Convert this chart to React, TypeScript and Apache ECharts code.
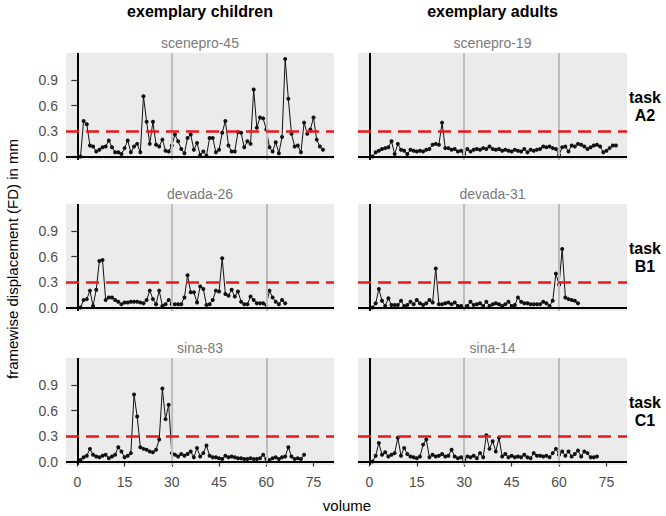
import React, { useEffect, useRef } from "react";
import * as echarts from "echarts";

const columnTitles = ["exemplary children", "exemplary adults"];
const rowTitles = ["task\nA2", "task\nB1", "task\nC1"];
const panelTitles = ["scenepro-45", "scenepro-19", "devada-26", "devada-31", "sina-83", "sina-14"];
const xTicks = [0, 15, 30, 45, 60, 75];
const yTicks = [0, 0.3, 0.6, 0.9];
const threshold = 0.3;
const guideVolumes = [30, 60];
const yAxisTitle = "framewise displacement (FD) in mm";
const xAxisTitle = "volume";

const scenepro45 = [
  0.0, 0.42, 0.38, 0.13, 0.12, 0.06, 0.08, 0.11, 0.12, 0.19,
  0.11, 0.05, 0.05, 0.03, 0.1, 0.19, 0.05, 0.12, 0.15, 0.05,
  0.71, 0.41, 0.15, 0.41, 0.14, 0.12, 0.2, 0.07, 0.06, 0.13,
  0.26, 0.18, 0.09, 0.04, 0.22, 0.26, 0.08, 0.16, 0.02, 0.06,
  0.01, 0.22, 0.22, 0.05, 0.08, 0.28, 0.42, 0.13, 0.06, 0.06,
  0.29, 0.28, 0.11, 0.18, 0.15, 0.79, 0.34, 0.46, 0.45, 0.32,
  0.11, 0.06, 0.17, 0.04, 0.23, 1.15, 0.68, 0.27, 0.12, 0.13,
  0.05, 0.4, 0.27, 0.32, 0.46, 0.2, 0.12, 0.08,
];
const scenepro19 = [
  0.0, 0.05, 0.07, 0.09, 0.1, 0.11, 0.18, 0.03, 0.15, 0.08,
  0.07, 0.03, 0.08, 0.07, 0.06, 0.07, 0.06, 0.08, 0.09, 0.14,
  0.15, 0.14, 0.4, 0.1, 0.1, 0.08, 0.09, 0.06, 0.07, 0.03,
  0.09, 0.06, 0.08, 0.09, 0.08, 0.1, 0.09, 0.12, 0.09, 0.08,
  0.09, 0.07, 0.08, 0.07, 0.06, 0.08, 0.07, 0.06, 0.09, 0.05,
  0.08, 0.07, 0.08, 0.09, 0.12, 0.11, 0.12, 0.1, 0.09, 0.02,
  0.11, 0.12, 0.06, 0.13, 0.12, 0.15, 0.14, 0.12, 0.09, 0.11,
  0.13, 0.14, 0.12, 0.05, 0.07, 0.1, 0.13, 0.13,
];
const devada26 = [
  0.0, 0.09, 0.1, 0.2, 0.02, 0.21, 0.55, 0.56, 0.09, 0.12,
  0.12, 0.09, 0.07, 0.04, 0.06, 0.06, 0.07, 0.07, 0.07, 0.06,
  0.05, 0.09, 0.2, 0.1, 0.04, 0.2, 0.02, 0.04, 0.09, 0.04,
  0.04, 0.04, 0.04, 0.12, 0.38, 0.18, 0.18, 0.06, 0.25, 0.22,
  0.03, 0.04, 0.09, 0.2, 0.19, 0.58, 0.16, 0.14, 0.21, 0.13,
  0.19, 0.07, 0.04, 0.04, 0.13, 0.09, 0.05, 0.05, 0.05, 0.03,
  0.2, 0.12, 0.07, 0.04, 0.09, 0.05,
];
const devada31 = [
  0.0, 0.05, 0.22, 0.08, 0.02, 0.11, 0.03, 0.03, 0.03, 0.08,
  0.02, 0.03, 0.07, 0.04, 0.09, 0.05, 0.03, 0.05, 0.09, 0.06,
  0.46, 0.04, 0.04, 0.05, 0.06, 0.04, 0.06, 0.02, 0.02, 0.02,
  0.02, 0.07, 0.03, 0.04, 0.05, 0.02, 0.07, 0.02, 0.04, 0.05,
  0.04, 0.02, 0.04, 0.07, 0.02, 0.03, 0.12, 0.07, 0.05, 0.05,
  0.04, 0.04, 0.04, 0.04, 0.07, 0.05, 0.02, 0.08, 0.4, 0.27,
  0.69, 0.12, 0.1, 0.09, 0.08, 0.05,
];
const sina83 = [
  0.02, 0.05, 0.07, 0.15, 0.08, 0.06, 0.05, 0.07, 0.08, 0.04,
  0.06, 0.08, 0.17, 0.12, 0.05, 0.07, 0.1, 0.79, 0.53, 0.17,
  0.15, 0.14, 0.12, 0.11, 0.14, 0.26, 0.86, 0.5, 0.67, 0.1,
  0.08, 0.06, 0.09, 0.07, 0.09, 0.12, 0.05, 0.16, 0.06, 0.1,
  0.19, 0.07, 0.05, 0.05, 0.04, 0.03, 0.07, 0.05, 0.06, 0.05,
  0.04, 0.04, 0.03, 0.03, 0.04, 0.03, 0.03, 0.04, 0.08, 0.03,
  0.02, 0.04, 0.05, 0.03, 0.05, 0.06, 0.17, 0.06, 0.03, 0.04,
  0.03, 0.08,
];
const sina14 = [
  0.0, 0.07, 0.22, 0.08, 0.11, 0.06, 0.08, 0.1, 0.28, 0.07,
  0.16, 0.09, 0.06, 0.05, 0.04, 0.06, 0.2, 0.26, 0.05, 0.08,
  0.06, 0.07, 0.09, 0.06, 0.07, 0.14, 0.06, 0.04, 0.05, 0.02,
  0.06, 0.05, 0.07, 0.04, 0.1, 0.05, 0.31, 0.15, 0.24, 0.12,
  0.28, 0.06, 0.09, 0.05, 0.07, 0.05, 0.06, 0.05, 0.08, 0.05,
  0.04, 0.1, 0.07, 0.07, 0.06, 0.07, 0.05, 0.1, 0.15, 0.08,
  0.12, 0.07, 0.12, 0.06, 0.09, 0.13, 0.06, 0.12, 0.1, 0.05,
  0.05, 0.06,
];

const panelData = [scenepro45, scenepro19, devada26, devada31, sina83, sina14];

const FONT = "'Liberation Sans', Arial, sans-serif";
const gridLefts = [66, 358];
const gridWidths = [268, 269];
const gridTops = [53, 204, 358];
const gridHeight = 107;
const xMin = -3.6;
const xMax = 81.5;
const yMin = -0.04;
const yMax = 1.22;

export default function App() {
  const ref = useRef<HTMLDivElement>(null);

  useEffect(() => {
    document.body.style.margin = "0";
    if (!ref.current) return;
    const chart = echarts.init(ref.current, undefined, { renderer: "svg" });

    const grids: any[] = [];
    const xAxes: any[] = [];
    const yAxes: any[] = [];
    const series: any[] = [];
    const titles: any[] = [];

    panelData.forEach((vals, i) => {
      const row = Math.floor(i / 2);
      const col = i % 2;
      grids.push({
        left: gridLefts[col],
        top: gridTops[row],
        width: gridWidths[col],
        height: gridHeight,
        show: true,
        backgroundColor: "#ebebeb",
        borderWidth: 0,
      });
      const bottomRow = row === 2;
      xAxes.push({
        type: "value",
        gridIndex: i,
        min: xMin,
        max: xMax,
        axisLine: { show: false },
        splitLine: { show: false },
        axisTick: {
          show: bottomRow,
          customValues: xTicks,
          length: 5,
          lineStyle: { color: "#333", width: 1.2 },
        },
        axisLabel: {
          show: bottomRow,
          customValues: xTicks,
          fontSize: 14,
          color: "#4d4d4d",
          fontFamily: FONT,
          margin: 10,
        },
      });
      const leftCol = col === 0;
      yAxes.push({
        type: "value",
        gridIndex: i,
        min: yMin,
        max: yMax,
        axisLine: { show: false },
        splitLine: { show: false },
        axisTick: {
          show: leftCol,
          customValues: yTicks,
          length: 6,
          lineStyle: { color: "#333", width: 1.2 },
        },
        axisLabel: {
          show: leftCol,
          customValues: yTicks,
          fontSize: 14,
          color: "#4d4d4d",
          fontFamily: FONT,
          margin: 8,
          formatter: (v: number) => v.toFixed(1),
        },
      });
      // reference lines
      series.push({
        type: "line",
        xAxisIndex: i,
        yAxisIndex: i,
        data: [],
        z: 1,
        silent: true,
        markLine: {
          silent: true,
          symbol: "none",
          label: { show: false },
          animation: false,
          data: [
            ...guideVolumes.map((g) => ({ xAxis: g, lineStyle: { color: "#bdbdbd", width: 2, type: "solid" } })),
            { xAxis: 0, lineStyle: { color: "#000", width: 2, type: "solid" } },
            { yAxis: 0, lineStyle: { color: "#000", width: 2, type: "solid" } },
            { yAxis: threshold, lineStyle: { color: "#e8191c", width: 2.5, type: [13, 7] } },
          ],
        },
      });
      series.push({
        type: "line",
        xAxisIndex: i,
        yAxisIndex: i,
        z: 3,
        data: vals.map((v, k) => [k + 1, v]),
        symbol: "circle",
        symbolSize: 4,
        showSymbol: true,
        lineStyle: { color: "#111", width: 1 },
        itemStyle: { color: "#111" },
        silent: true,
      });
      titles.push({
        text: panelTitles[i],
        left: gridLefts[col] + gridWidths[col] / 2,
        top: gridTops[row] - 17,
        textAlign: "center",
        textStyle: { fontSize: 14, fontWeight: "normal", color: "#7a7a7a", fontFamily: FONT },
        padding: 0,
      });
    });

    columnTitles.forEach((t, c) => {
      titles.push({
        text: t,
        left: gridLefts[c] + gridWidths[c] / 2,
        top: 3,
        textAlign: "center",
        textStyle: { fontSize: 16, fontWeight: "bold", color: "#000", fontFamily: FONT },
        padding: 0,
      });
    });

    const graphics: any[] = rowTitles.map((t, r) => ({
      type: "text",
      x: 645,
      y: gridTops[r] + gridHeight / 2,
      style: {
        text: t,
        fontSize: 16,
        fontWeight: "bold",
        fill: "#000",
        fontFamily: FONT,
        align: "center",
        verticalAlign: "middle",
        lineHeight: 18,
      },
    }));
    graphics.push({
      type: "text",
      x: 12,
      y: 259,
      rotation: Math.PI / 2,
      style: {
        text: yAxisTitle,
        fontSize: 15,
        fill: "#000",
        fontFamily: FONT,
        align: "center",
        verticalAlign: "middle",
      },
    });
    graphics.push({
      type: "text",
      x: 347,
      y: 505,
      style: {
        text: xAxisTitle,
        fontSize: 15,
        fill: "#000",
        fontFamily: FONT,
        align: "center",
        verticalAlign: "middle",
      },
    });

    chart.setOption({
      animation: false,
      title: titles,
      grid: grids,
      xAxis: xAxes,
      yAxis: yAxes,
      series,
      graphic: graphics,
    });

    return () => chart.dispose();
  }, []);

  return (
    <div
      ref={ref}
      style={{ width: 666, height: 516, position: "absolute", left: 0, top: 0 }}
    />
  );
}
